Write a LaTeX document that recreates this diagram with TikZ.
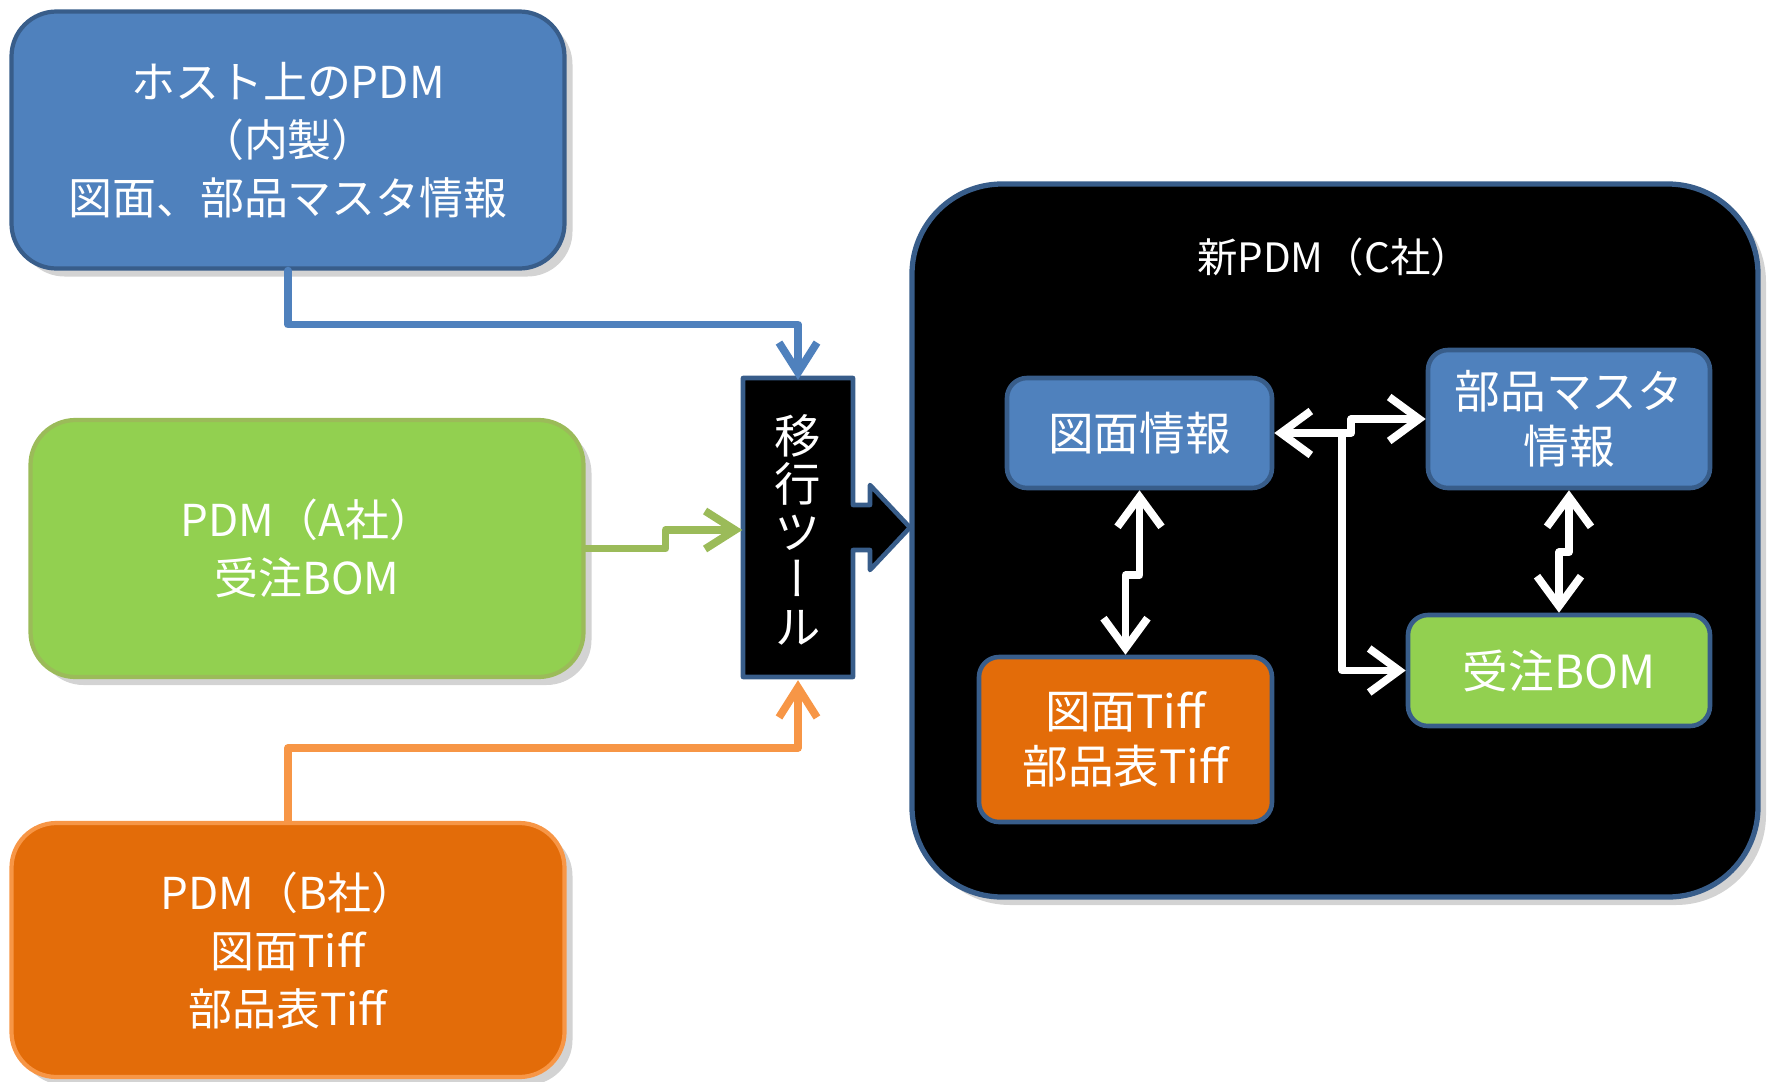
\documentclass[tikz,border=0pt]{standalone}
\usepackage{fontspec}
\setmainfont{Noto Sans CJK JP}
\newfontfamily\tatefont[RawFeature=+vert]{Noto Sans CJK JP}
\usetikzlibrary{arrows.meta,positioning,shadows}
\definecolor{boxblue}{HTML}{4F81BD}
\definecolor{edgeblue}{HTML}{385D8A}
\definecolor{boxgreen}{HTML}{92D050}
\definecolor{edgegreen}{HTML}{9BBB59}
\definecolor{boxorange}{HTML}{E36C09}
\definecolor{edgeorange}{HTML}{F79646}

\begin{document}
\begin{tikzpicture}[
    x = 0.1mm, y = -0.1mm, % one unit per pixel, y runs down
    > = {Straight Barb[length=3mm,width=3.8mm]}, % open arrow head
    line cap = round,
    line join = round
    ]

    \tikzset{
    srcbox/.style = {rectangle, rounded corners=4.5mm, line width=1.2pt, text=white, align=center,
        minimum width=55.3mm, minimum height=25.7mm, font=\fontsize{12.5}{16.5}\selectfont,
        drop shadow={shadow xshift=0.8mm, shadow yshift=-0.8mm, opacity=0.35}},
    infobox/.style = {rectangle, rounded corners=2mm, draw=edgeblue, line width=1.3pt,
        text=white, align=center, font=\fontsize{13}{15.5}\selectfont},
    flow/.style = {->, line width=2.2pt},
    linkflow/.style = {white, line width=2.2pt, > = {Straight Barb[length=3mm,width=4.4mm]}}
    }

    \useasboundingbox (0,0) rectangle (1770,1081);

    % sources
    \node[srcbox, fill=boxblue, draw=edgeblue] (host) at (288,140) {ホスト上のPDM\\（内製）\\図面、部品マスタ情報};
    \node[srcbox, fill=boxgreen, draw=edgegreen] (pdmA) at (307,548.5) {PDM（A社）\\受注BOM};
    \node[srcbox, fill=boxorange, draw=edgeorange, minimum height=25.4mm] (pdmB) at (288,950) {PDM（B社）\\図面Tiff\\部品表Tiff};

    % new system
    \node[rectangle, rounded corners=9mm, fill=black, draw=edgeblue, line width=1.5pt,
        minimum width=84.6mm, minimum height=71.3mm,
        drop shadow={shadow xshift=0.8mm, shadow yshift=-0.8mm, opacity=0.35}] (newpdm) at (1335,540.5) {};
    \node[text=white, font=\fontsize{11.5}{14}\selectfont] (title) at (1334,257) {新PDM（C社）};

    \node[infobox, fill=boxblue, minimum width=26.5mm, minimum height=11mm] (zumen) at (1139.5,433) {図面情報};
    \node[infobox, fill=boxblue, minimum width=28.2mm, minimum height=13.8mm] (buhin) at (1569,419) {部品マスタ\\情報};
    \node[infobox, fill=boxorange, minimum width=29.3mm, minimum height=16.5mm] (tiff) at (1125.5,739.5) {図面Tiff\\部品表Tiff};
    \node[infobox, fill=boxgreen, minimum width=30.2mm, minimum height=11.1mm] (juchu) at (1559,670.5) {受注BOM};

    % migration tool
    \draw[fill=black, draw=edgeblue, line width=1.3pt] (743,378) -- (853,378) -- (853,505) -- (870,505)
        -- (870,485) -- (910,527.5) -- (870,570) -- (870,550) -- (853,550) -- (853,677) -- (743,677) -- cycle;
    \node[minimum width=11mm, minimum height=29.9mm, text=white, align=center,
        font=\tatefont\fontsize{13.2}{13.6}\selectfont] (tool) at (798,530) {移\\行\\ツ\\ー\\ル};

    \draw[flow, boxblue] (host.south) -- ++(0,54) -| (tool.north);
    \draw[flow, edgegreen] (pdmA.east) -- ++(80,0) |- (tool.west);
    \draw[flow, edgeorange] (pdmB.north) -- ++(0,-73) -| (tool.south);

    \draw[linkflow, <->] (zumen.east) -- ++(77,0) |- (buhin.west);
    \coordinate (branch) at ([xshift=6.8mm]zumen.east);
    \draw[linkflow, ->] (branch) |- (juchu.west);
    \draw[linkflow, <->] (zumen.south) -- ++(0,85) -| (tiff.north);
    \draw[linkflow, <->] (buhin.south) -- ++(0,62) -| (juchu.north);
\end{tikzpicture}
\end{document}
